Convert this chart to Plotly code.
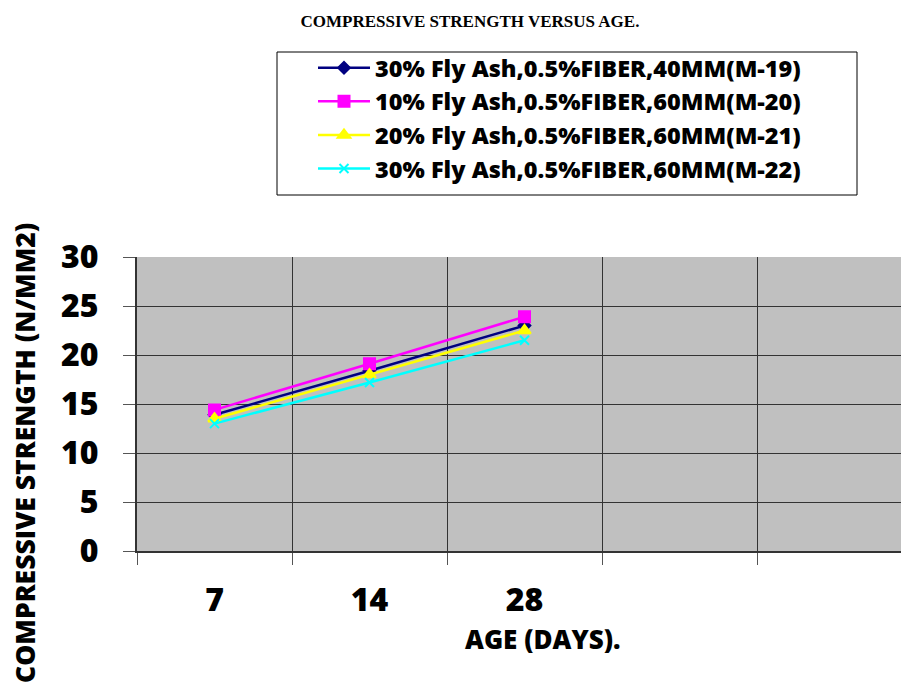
import plotly.graph_objects as go

ages = ["7", "14", "28"]
pad_categories = [" ", "  "]
series_names = [
    "30% Fly Ash,0.5%FIBER,40MM(M-19)",
    "10% Fly Ash,0.5%FIBER,60MM(M-20)",
    "20% Fly Ash,0.5%FIBER,60MM(M-21)",
    "30% Fly Ash,0.5%FIBER,60MM(M-22)",
]
m19 = [13.9, 18.4, 23.0]
m20 = [14.4, 19.1, 23.9]
m21 = [13.5, 18.0, 22.5]
m22 = [13.0, 17.2, 21.5]

colors = ["#000080", "#FF00FF", "#FFFF00", "#00FFFF"]
symbols = ["diamond", "square", "triangle-up", "x-thin-open"]
sizes = [9, 11, 11, 9]
values = [m19, m20, m21, m22]

FONT = "Open Sans"

fig = go.Figure()
for i, (name, vals) in enumerate(zip(series_names, values)):
    fig.add_trace(go.Scatter(
        x=ages, y=vals, name=name, mode="lines+markers",
        line=dict(color=colors[i], width=2.5),
        marker=dict(symbol=symbols[i], size=sizes[i], color=colors[i],
                    line=dict(color=colors[i], width=2)),
        legendgroup=f"g{i}",
    ))

W, H = 901, 693
L, R, T, B = 137, 901, 257, 551
pw, ph = R - L, B - T

def px_x(px):
    return (px - L) / pw

def px_y(py):
    return (B - py) / ph

fig.add_shape(type="rect", xref="paper", yref="paper",
              x0=px_x(277), x1=px_x(857), y0=px_y(195), y1=px_y(52),
              line=dict(color="#000000", width=1), fillcolor="white", layer="below")

fig.update_layout(
    width=W, height=H,
    margin=dict(l=L, r=W - R, t=T, b=H - B),
    paper_bgcolor="white",
    plot_bgcolor="#C0C0C0",
    showlegend=True,
    legend=dict(
        x=px_x(313), y=px_y(46), xanchor="left", yanchor="top",
        bgcolor="rgba(0,0,0,0)", borderwidth=0,
        font=dict(family=FONT, size=23.5, color="black", weight=800),
        traceorder="grouped", tracegroupgap=0, itemwidth=52,
    ),
    title=dict(text="<b>COMPRESSIVE STRENGTH VERSUS AGE.</b>",
               x=px_x(470), xanchor="center", xref="paper",
               y=1 - 21 / H, yanchor="middle",
               font=dict(family="Liberation Serif", size=17, color="black")),
    xaxis=dict(
        type="category", categoryorder="array",
        categoryarray=ages + pad_categories,
        range=[-0.5, -0.5 + pw / 155.0],
        tickson="boundaries", ticks="outside", ticklen=12, tickcolor="#555555",
        showgrid=True, gridcolor="#333333", gridwidth=1,
        showline=True, linecolor="#333333", linewidth=2,
        tickfont=dict(family=FONT, size=32, color="black", weight=800),
        ticklabelstandoff=20,
        zeroline=False, fixedrange=True,
    ),
    yaxis=dict(
        range=[0, 30], dtick=5, tick0=0,
        ticks="outside", ticklen=12, tickcolor="#555555",
        showgrid=True, gridcolor="#333333", gridwidth=1,
        showline=True, linecolor="#333333", linewidth=2,
        tickfont=dict(family=FONT, size=32, color="black", weight=800),
        ticklabelstandoff=18,
        zeroline=False, fixedrange=True,
    ),
    annotations=[
        dict(text="COMPRESSIVE STRENGTH (N/MM2)", textangle=-90,
             xref="paper", yref="paper", x=px_x(25), y=px_y(221),
             xanchor="center", yanchor="top", showarrow=False,
             font=dict(family=FONT, size=26.5, color="black", weight=800)),
        dict(text="AGE (DAYS).",
             xref="paper", yref="paper", x=px_x(543), y=px_y(639),
             xanchor="center", yanchor="middle", showarrow=False,
             font=dict(family=FONT, size=26, color="black", weight=800)),
    ],
)

fig.write_html("out.html")
